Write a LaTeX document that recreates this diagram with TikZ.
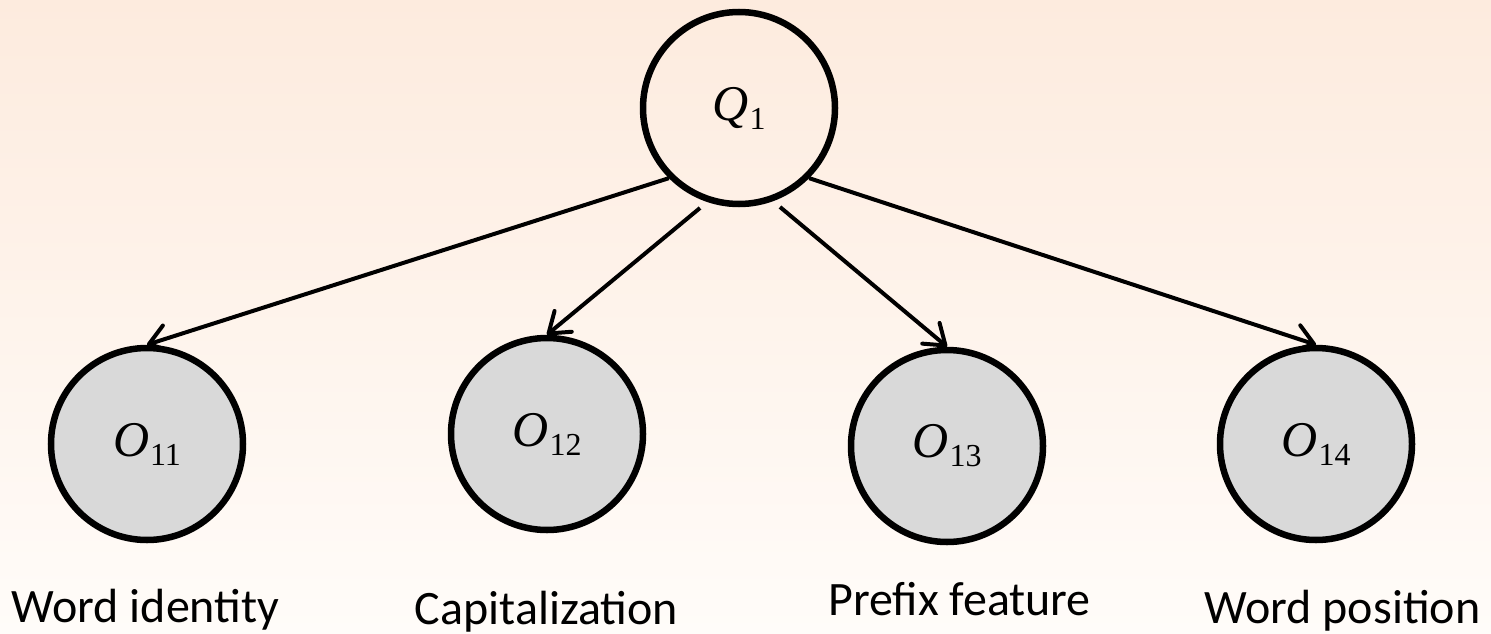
\documentclass[tikz,border=0pt]{standalone}
\usepackage{fontspec}
\setmainfont{Carlito}
\newfontfamily\varfont{Liberation Serif}
\usetikzlibrary{arrows.meta,calc}
\definecolor{bgtop}{RGB}{253,235,222}
\definecolor{bgbot}{RGB}{255,252,249}
\definecolor{obsfill}{RGB}{217,217,217}
\newcommand\rvar[2]{{\varfont\fontsize{50}{56}\selectfont\itshape #1\kern1pt}\raisebox{-9pt}{\varfont\fontsize{32}{36}\selectfont #2}}
\tikzset{
  hidden/.style={circle,draw=black,line width=6.5pt,minimum size=192pt,inner sep=0pt},
  observed/.style={hidden,fill=obsfill},
  edge/.style={line width=4pt,-{Straight Barb[length=19pt,width=27pt,round]}},
  caption/.style={anchor=base,font=\fontsize{48}{56}\selectfont}
}
\begin{document}
\begin{tikzpicture}[x=1pt,y=-1pt]
\fill[top color=bgtop,bottom color=bgbot] (0,0) rectangle (1491,634);
\useasboundingbox (0,0) rectangle (1491,634);
\node[hidden] (Q1) at (739,108) {\rvar{Q}{1}};
\node[observed] (O11) at (147,444) {\rvar{O}{11}};
\node[observed] (O12) at (547,434) {\rvar{O}{12}};
\node[observed] (O13) at (947,446) {\rvar{O}{13}};
\node[observed] (O14) at (1316,444) {\rvar{O}{14}};
\coordinate (s2) at ($(Q1.center)+(-39,100)$);
\coordinate (s3) at ($(Q1.center)+(41,99)$);
\draw[edge] (Q1.225) -- (O11.north);
\draw[edge] (s2) -- (O12.north);
\draw[edge] (s3) -- (O13.north);
\draw[edge] (Q1.315) -- (O14.north);
\node[caption] (c1) at (145.5,622) {Word identity};
\node[caption] (c2) at (546.5,624) {Capitalization};
\node[caption] (c3) at (959.5,615) {Prefix feature};
\node[caption] (c4) at (1342.5,623) {Word position};
\end{tikzpicture}
\end{document}
